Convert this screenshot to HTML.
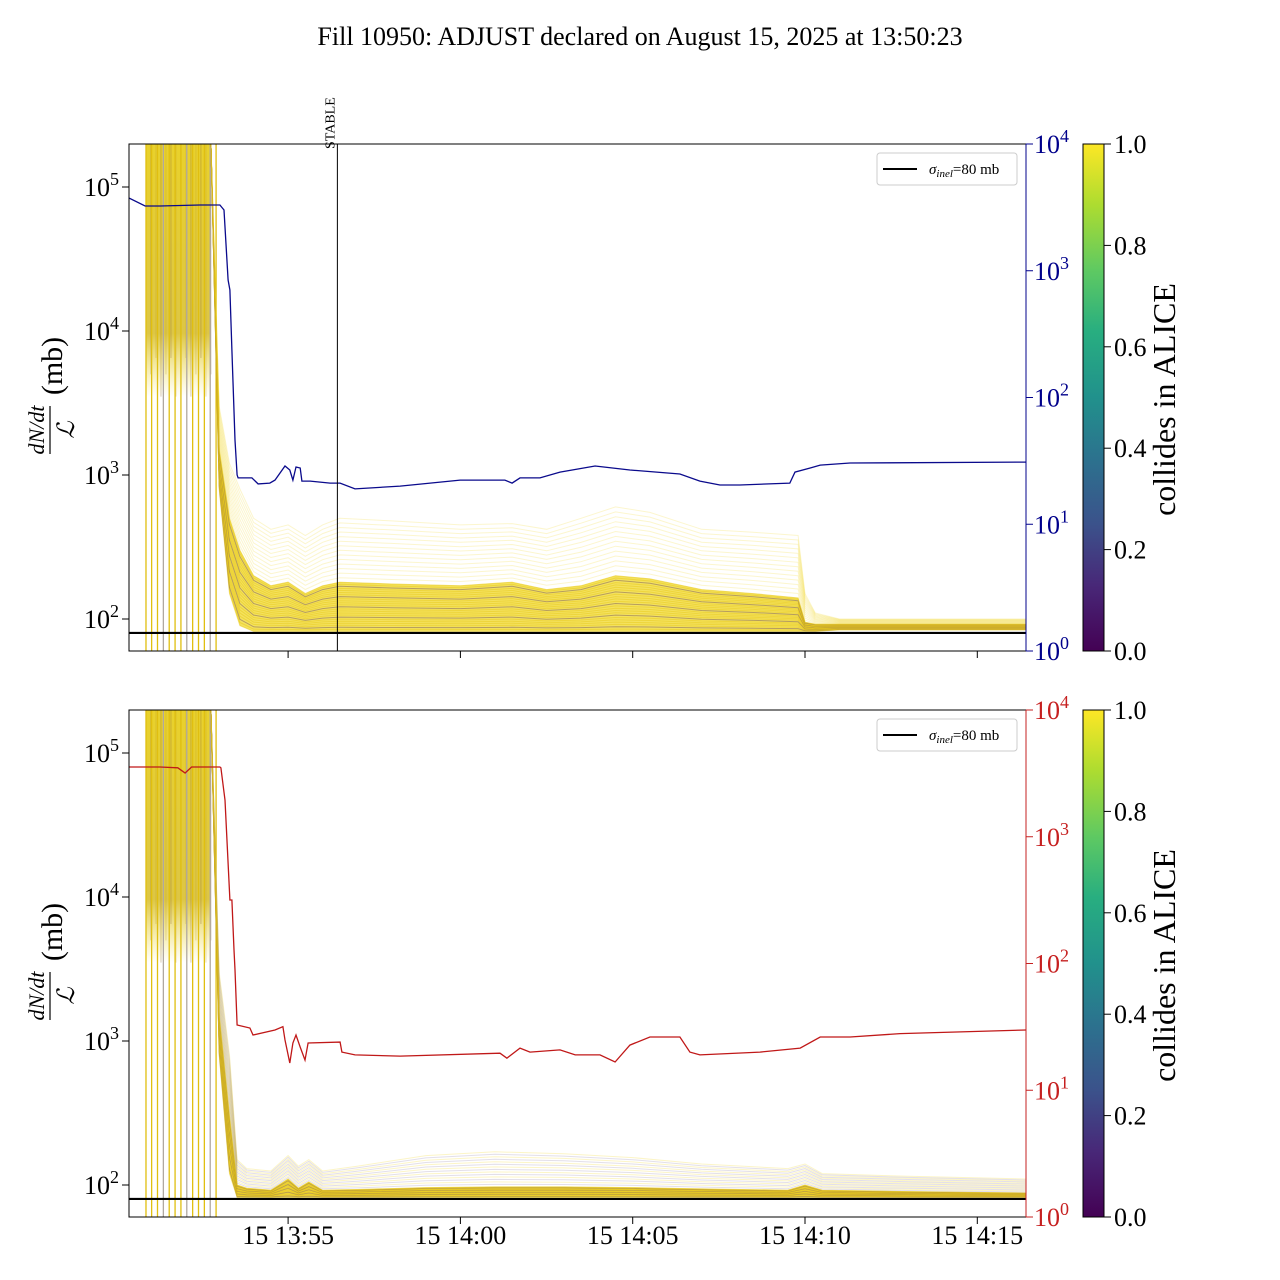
<!DOCTYPE html>
<html><head><meta charset="utf-8"><style>
html,body{margin:0;padding:0;background:#fff}
svg{display:block;font-family:"Liberation Serif","DejaVu Serif",serif}
</style></head><body>
<svg id="chart" width="1280" height="1280" viewBox="0 0 1280 1280" xmlns="http://www.w3.org/2000/svg">
<defs>
<clipPath id="clipTop"><rect x="129" y="144" width="897" height="507"/></clipPath>
<clipPath id="clipBot"><rect x="129" y="710" width="897" height="507"/></clipPath>
<linearGradient id="viridis" x1="0" y1="1" x2="0" y2="0">
<stop offset="0" stop-color="#440154"/><stop offset="0.13" stop-color="#482878"/><stop offset="0.25" stop-color="#3b528b"/><stop offset="0.38" stop-color="#2c728e"/><stop offset="0.5" stop-color="#21918c"/><stop offset="0.63" stop-color="#28ae80"/><stop offset="0.75" stop-color="#5ec962"/><stop offset="0.88" stop-color="#addc30"/><stop offset="1" stop-color="#fde725"/>
</linearGradient>
<linearGradient id="blockFade" x1="0" y1="0" x2="0" y2="1">
<stop offset="0" stop-color="#e8cf20" stop-opacity="0.95"/><stop offset="0.75" stop-color="#d9c030" stop-opacity="0.9"/><stop offset="1" stop-color="#f0dc40" stop-opacity="0"/>
</linearGradient>
</defs>
<text x="640" y="45" font-size="26" text-anchor="middle">Fill 10950: ADJUST declared on August 15, 2025 at 13:50:23</text>
<g id="layer"></g>
</svg>
<script>
// ---- data (time in minutes after 13:50:00) ----
const blockStart = 0.876, blockEnd = 2.76;
const spikeTimes = [0.876,1.04,1.21,1.38,1.55,1.72,1.89,2.06,2.23,2.40,2.57,2.74,2.91];
// top panel bundle
const topTimes  = [2.76,3.0,3.3,3.6,4.0,4.5,5.0,5.5,6.0,6.5,8,10,11.5,12.5,13.5,14.5,15.5,17,18.5,19.8,20.0,20.3,21,22,26.41];
const topFanHi  = [2e5,3000,1200,800,500,420,450,380,450,500,480,450,460,420,500,600,550,420,400,380,150,110,100,100,100];
const topCoreHi = [2e5,1500,500,300,200,170,180,150,170,180,175,170,180,160,170,200,190,160,150,140,95,92,92,92,92];
const topCoreLo = [2e5,800,150,90,82,82,82,82,82,82,82,82,82,82,82,82,82,82,82,82,82,82,84,84,84];
// bottom panel bundle
const botTimes  = [2.76,3.0,3.3,3.52,3.8,4.5,5.0,5.3,5.6,6.0,7,9,11,13,15,17,19.5,20,20.5,23,26.41];
const botFanHi  = [2e5,3000,800,150,130,125,160,135,150,125,135,160,170,165,155,140,130,140,120,115,110];
const botCoreHi = [2e5,1500,300,100,95,92,110,95,105,92,93,96,97,97,96,94,92,100,92,90,88];
const botCoreLo = [2e5,800,120,82,82,82,82,82,82,82,82,82,82,82,82,82,82,82,82,82,82];
// right-axis series
const blueTimes = [0.38,0.85,1.28,2.44,3.02,3.14,3.26,3.31,3.37,3.46,3.52,3.55,3.95,4.13,4.47,4.62,4.91,5.05,5.14,5.23,5.35,5.40,5.64,6.22,6.51,6.94,8.25,9.99,11.29,11.50,11.73,12.31,12.89,13.91,14.92,16.37,16.95,17.53,18.11,19.56,19.71,20.15,20.44,21.31,26.41];
const blueVals  = [3750,3245,3245,3300,3300,3015,845,705,237,46,24.5,23.2,23.2,20.8,21.1,22.3,28.8,26.8,22.3,28.3,27.8,21.9,21.9,21.1,21.1,19.0,20.0,22.3,22.3,21.1,23.2,23.2,25.8,28.8,26.8,24.9,21.9,20.4,20.4,21.1,25.8,27.8,29.3,30.4,30.9];
const redTimes  = [0.38,1.28,1.80,2.01,2.20,3.02,3.05,3.17,3.31,3.37,3.43,3.46,3.52,3.89,3.98,4.62,4.85,4.91,5.05,5.14,5.23,5.35,5.49,5.58,6.51,6.56,6.94,8.25,11.15,11.35,11.73,12.02,12.89,13.33,14.05,14.49,14.92,15.50,16.37,16.66,16.95,18.69,19.86,20.44,21.31,22.76,26.41];
const redVals   = [3550,3550,3500,3185,3550,3550,3500,1950,317,317,128,89,32.7,31,27.3,29.9,31.7,24.9,16.4,23.6,27.3,21.9,17.3,23.6,24.0,20.0,19.0,18.6,19.6,17.9,21.5,20.0,20.8,19.0,19.0,16.7,22.7,26.3,26.3,20.0,19.0,20.0,21.5,26.3,26.3,28.0,29.9];
const sigmaInel = 80;
const xTickTimes = [5,10,15,20,25];
const xTickLabels = ["15 13:55","15 14:00","15 14:05","15 14:10","15 14:15"];
const leftDecades = [2,3,4,5];
const rightDecades = [0,1,2,3,4];
const cbTicks = [0,0.2,0.4,0.6,0.8,1.0];
const stableTime = 6.43;

// ---- scales ----
const X0=129, X1=1026, T0=0.383, PXM=34.46;
const xS = t => X0 + (t - T0) * PXM;
const panels = [
  {name:'top', top:144, bot:651, dec100:619, clip:'clipTop', times:topTimes, fan:topFanHi, hi:topCoreHi, lo:topCoreLo, rt:blueTimes, rv:blueVals, rc:'#0a0a8c', rtick:'#00008b'},
  {name:'bottom', top:710, bot:1217, dec100:1185, clip:'clipBot', times:botTimes, fan:botFanHi, hi:botCoreHi, lo:botCoreLo, rt:redTimes, rv:redVals, rc:'#c01818', rtick:'#c62020'}
];
const NS='http://www.w3.org/2000/svg';
const layer=document.getElementById('layer');
function mk(tag, attrs, parent){const e=document.createElementNS(NS,tag);for(const k in attrs)e.setAttribute(k,attrs[k]);(parent||layer).appendChild(e);return e;}

panels.forEach((P,pi)=>{
  const yL = v => P.dec100 - (Math.log10(v)-2)*144;
  const yR = v => P.bot - Math.log10(v)*126.75;
  const g = mk('g',{'clip-path':'url(#'+P.clip+')'});
  
  
  const blk = mk('rect',{x:xS(blockStart),y:P.top,width:xS(blockEnd)-xS(blockStart),height:(yL(3500)-P.top),fill:'url(#blockFade)'},g);
  
  
  for(let k=0;k<14;k++){
    const tt = blockStart + (blockEnd-blockStart)*k/13;
    const ln = mk('line',{x1:xS(tt),x2:xS(tt),y1:P.top,y2:yL(3500+ (k%3)*1500),stroke:k%2?'#8a6a40':'#c0a030','stroke-width':1,'stroke-opacity':0.35},g);
    
    
  }
  spikeTimes.forEach((st,i)=>{
    const sl = mk('line',{x1:xS(st),x2:xS(st),y1:P.top,y2:P.bot,stroke:i%4==3?'#b0a8a0':'#e0bf10','stroke-width':1.3},g);
    
    
  });
  const pathFor = (a,b,f)=> P.times.map((t,i)=>{const v=a[i]*Math.pow(b[i]/a[i],f);return (i?'L':'M')+xS(t).toFixed(1)+','+yL(v).toFixed(1);}).join('');
  for(let k=0;k<=14;k++){
    const f=k/14;
    const p = mk('path',{d:pathFor(P.hi,P.fan,f),fill:'none',stroke:(pi==1&&k%2)?'#9080a8':'#f2d820','stroke-width':1,'stroke-opacity':pi==1?0.25:0.22},g);
    
    
  }
  const up = P.times.map((t,i)=>xS(t).toFixed(1)+','+yL(P.hi[i]).toFixed(1));
  const dn = P.times.map((t,i)=>xS(t).toFixed(1)+','+yL(P.lo[i]).toFixed(1)).reverse();
  const cf = mk('polygon',{points:up.concat(dn).join(' '),fill:'#f0d828','fill-opacity':0.75},g);
  
  
  for(let k=0;k<=24;k++){
    const f=k/24;
    const dark = k%5==2;
    const p = mk('path',{d:pathFor(P.lo,P.hi,f),fill:'none',stroke:dark?'#6a4a60':'#e8c818','stroke-width':1,'stroke-opacity':dark?0.45:0.5},g);
    
    
  }
  const sg = mk('line',{x1:X0,x2:X1,y1:yL(sigmaInel),y2:yL(sigmaInel),stroke:'#000','stroke-width':2.2},g);
  
  
  const rp = mk('path',{d:P.rt.map((t,i)=>(i?'L':'M')+xS(t).toFixed(1)+','+yR(P.rv[i]).toFixed(1)).join(''),fill:'none',stroke:P.rc,'stroke-width':1.3},g);
  
  
  if(pi==0){
    const sl = mk('line',{x1:xS(stableTime),x2:xS(stableTime),y1:P.top,y2:P.bot,stroke:'#000','stroke-width':1});
    
    
    const st = mk('text',{x:0,y:0,'font-size':14,transform:`translate(${xS(stableTime)-3},149) rotate(-90)`});
    st.textContent='STABLE';
    
    
  }
  const fr = mk('rect',{x:X0,y:P.top,width:X1-X0,height:P.bot-P.top,fill:'none',stroke:'#000','stroke-width':1});
  
  
  mk('line',{x1:X1,x2:X1,y1:P.top,y2:P.bot,stroke:P.rtick,'stroke-width':1});
  leftDecades.forEach(d=>{
    const y=yL(Math.pow(10,d));
    mk('line',{x1:X0-7,x2:X0,y1:y,y2:y,stroke:'#000'});
    const tx = mk('text',{x:X0-10,y:y+9,'font-size':26,'text-anchor':'end'});
    tx.innerHTML='10<tspan dy="-11" font-size="18">'+d+'</tspan>';
    
    
  });
  rightDecades.forEach(d=>{
    const y=yR(Math.pow(10,d));
    mk('line',{x1:X1,x2:X1+7,y1:y,y2:y,stroke:P.rtick});
    const tx = mk('text',{x:X1+8,y:y+9,'font-size':26,fill:P.rtick});
    tx.innerHTML='10<tspan dy="-11" font-size="18">'+d+'</tspan>';
    
    
  });
  xTickTimes.forEach((t,i)=>{
    const x=xS(t);
    mk('line',{x1:x,x2:x,y1:P.bot,y2:P.bot+7,stroke:'#000'});
    if(pi==1){
      const tx=mk('text',{x:x,y:P.bot+27,'font-size':26,'text-anchor':'middle'});
      tx.textContent=xTickLabels[i];
      
      
    }
  });
  const yl = mk('g',{transform:`translate(52,${P.top+258}) rotate(-90)`});
  
  
  mk('text',{x:-28,y:-8,'font-size':22,'font-style':'italic','text-anchor':'middle'},yl).textContent='dN/dt';
  mk('line',{x1:-52,x2:-4,y1:-2,y2:-2,stroke:'#000','stroke-width':1.2},yl);
  mk('text',{x:-28,y:22,'font-size':24,'font-style':'italic','text-anchor':'middle'},yl).textContent='ℒ';
  mk('text',{x:36,y:10,'font-size':30,'text-anchor':'middle'},yl).textContent='(mb)';
  const lg = mk('g',{});
  
  
  mk('rect',{x:877,y:P.top+9,width:140,height:32,rx:3,fill:'#fff','fill-opacity':0.85,stroke:'#ccc'},lg);
  mk('line',{x1:883,x2:917,y1:P.top+25,y2:P.top+25,stroke:'#000','stroke-width':2},lg);
  const lt = mk('text',{x:929,y:P.top+30,'font-size':15},lg);
  lt.innerHTML='<tspan font-style="italic">σ</tspan><tspan font-size="11" dy="3" font-style="italic">inel</tspan><tspan dy="-3">=80 mb</tspan>';
  const cb = mk('rect',{x:1083,y:P.top,width:21,height:P.bot-P.top,fill:'url(#viridis)',stroke:'#000','stroke-width':1});
  
  
  cbTicks.forEach(v=>{
    const y=P.bot-v*(P.bot-P.top);
    mk('line',{x1:1104,x2:1111,y1:y,y2:y,stroke:'#000'});
    const tx=mk('text',{x:1114,y:y+9,'font-size':26});
    tx.textContent=v.toFixed(1);
    
    
  });
  const ct = mk('text',{x:0,y:0,'font-size':32,'text-anchor':'middle',transform:`translate(1175,${(P.top+P.bot)/2+2}) rotate(-90)`});
  ct.textContent='collides in ALICE';
  
  
});
</script>
</body></html>
